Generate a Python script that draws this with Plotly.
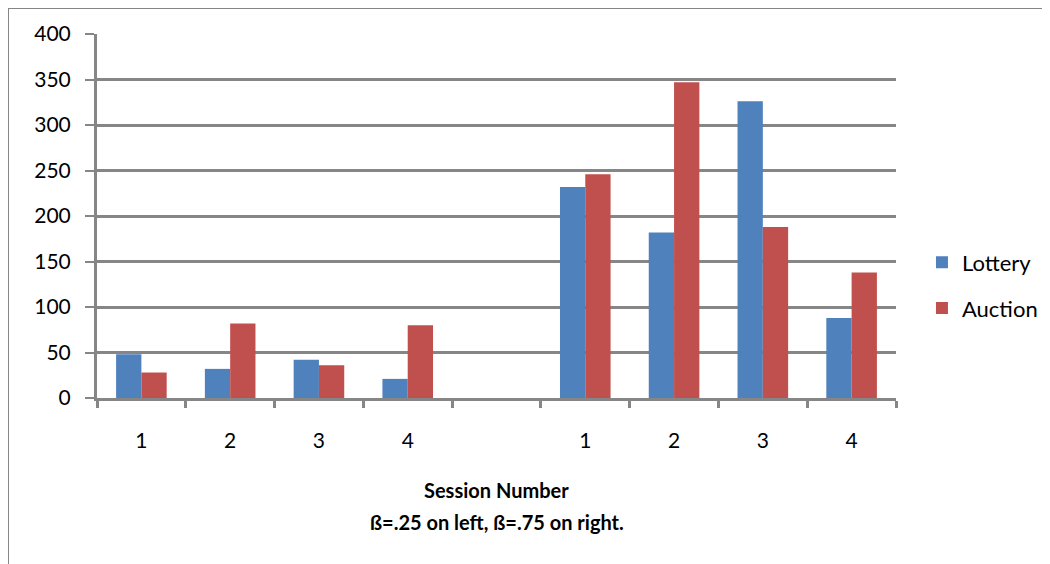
import plotly.graph_objects as go

sessions = ["1", "2", "3", "4", "", "1", "2", "3", "4"]
lottery = [48, 32, 42, 21, None, 232, 182, 326, 88]
auction = [28, 82, 36, 80, None, 246, 347, 188, 138]
y_ticks = [0, 50, 100, 150, 200, 250, 300, 350, 400]
title_line1 = "Session Number"
title_line2 = "ß=.25 on left, ß=.75 on right."

x_pos = list(range(len(sessions)))
grid = "#868686"
font_family = "Lato, Open Sans, Liberation Sans, sans-serif"

fig = go.Figure()
fig.add_trace(go.Bar(x=x_pos, y=lottery, name="Lottery", marker_color="#4F81BD",
                     marker_line_width=0, legendgroup="a"))
fig.add_trace(go.Bar(x=x_pos, y=auction, name="Auction", marker_color="#C0504D",
                     marker_line_width=0, legendgroup="b"))

fig.update_layout(
    width=1050, height=564,
    margin=dict(l=89, r=162, t=26, b=174),
    plot_bgcolor="white", paper_bgcolor="white",
    barmode="group", bargap=0.43, bargroupgap=0,
    font=dict(family=font_family, size=21, color="black"),
    showlegend=True,
    legend=dict(x=1.0325, y=0.309, xanchor="left", yanchor="middle",
                font=dict(size=22), tracegroupgap=14, traceorder="grouped",
                itemclick=False),
    annotations=[
        dict(text="<b>" + title_line1 + "</b>", xref="paper", yref="paper",
             x=0.5, y=-0.2527, xanchor="center", yanchor="middle",
             showarrow=False, font=dict(size=20)),
        dict(text="<b>" + title_line2 + "</b>", xref="paper", yref="paper",
             x=0.5, y=-0.3407, xanchor="center", yanchor="middle",
             showarrow=False, font=dict(size=20)),
    ],
    shapes=[dict(type="rect", xref="paper", yref="paper",
                 x0=-0.1114, x1=1.3, y0=-0.6, y1=1.0714,
                 line=dict(color=grid, width=2), layer="below")],
)

fig.update_xaxes(
    range=[-0.5, 8.5], tickvals=x_pos, ticktext=sessions, ticks="",
    showline=True, linecolor=grid, linewidth=3, showgrid=False,
    tickfont=dict(size=21), ticklabelstandoff=22,
    minor=dict(tickvals=[i - 0.5 for i in range(10)], ticks="outside",
               ticklen=7, tickwidth=2.5, tickcolor=grid, showgrid=False),
)
fig.update_yaxes(
    range=[0, 400], tickvals=y_ticks, ticks="outside", ticklen=9,
    tickwidth=2, tickcolor=grid, showline=True, linecolor=grid, linewidth=3,
    showgrid=True, gridcolor=grid, gridwidth=2.5, zeroline=False,
    tickfont=dict(size=21), ticklabelstandoff=10,
)

fig.write_html("out.html")
